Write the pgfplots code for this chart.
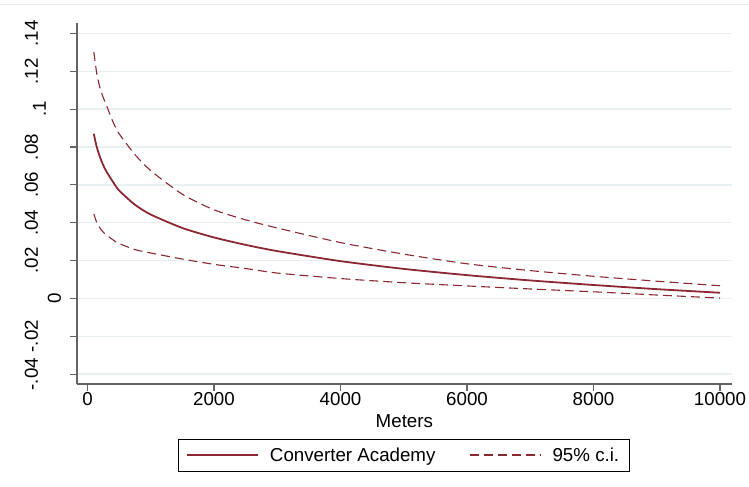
\documentclass[border=0pt]{standalone}
\usepackage{pgfplots}
\usepackage{pgfplotstable}
\pgfplotsset{compat=1.18}
\usepackage{fontspec}
\setmainfont{Liberation Sans}
\definecolor{cran}{RGB}{140,40,50}
\definecolor{gridc}{RGB}{232,240,242}
\definecolor{axc}{RGB}{100,100,100}
\newcommand{\tf}{\fontsize{18.8}{22}\selectfont}
\pgfplotstableread{
x main upper lower
100 0.0870 0.1302 0.0447
125 0.0829 0.1240 0.0420
150 0.0796 0.1180 0.0400
200 0.0744 0.1110 0.0370
250 0.0703 0.1060 0.0350
300 0.0670 0.1020 0.0335
400 0.0617 0.0935 0.0310
500 0.0570 0.0870 0.0290
750 0.0495 0.0760 0.0258
1000 0.0443 0.0675 0.0240
1500 0.0372 0.0550 0.0208
2000 0.0322 0.0468 0.0180
2500 0.0283 0.0415 0.0158
3000 0.0250 0.0372 0.0134
4000 0.0197 0.0295 0.0105
5000 0.0156 0.0234 0.0083
6000 0.0123 0.0183 0.0066
7000 0.0095 0.0147 0.0050
8000 0.0071 0.0117 0.0035
9000 0.0049 0.0091 0.0018
10000 0.0030 0.0067 0.0002
}\datatable
\begin{document}
\begin{tikzpicture}[x=1bp,y=1bp]
\path[use as bounding box] (0,0) rectangle (749,487);
\draw[gridc, line width=1.2bp] (0,482.5) -- (749,482.5);
\begin{axis}[
  at={(77bp,103bp)}, anchor=south west,
  scale only axis, width=654.7bp, height=361bp,
  xmin=-166, xmax=10185, ymin=-0.0452, ymax=0.1455,
  axis lines=left,
  axis line style={-, axc, line width=1.5bp},
  tick align=outside, major tick length=7bp,
  tick style={axc, line width=1.2bp},
  ymajorgrids=true, grid style={gridc, line width=1.5bp},
  scaled x ticks=false, scaled y ticks=false,
  xtick={0,2000,4000,6000,8000,10000},
  xticklabels={0,2000,4000,6000,8000,10000},
  ytick={-0.04,-0.02,0,0.02,0.04,0.06,0.08,0.1,0.12,0.14},
  yticklabels={\raisebox{32bp}{-.04},\raisebox{32bp}{-.02},\raisebox{9bp}{0},\raisebox{32bp}{.02},\raisebox{32bp}{.04},\raisebox{32bp}{.06},\raisebox{32bp}{.08},\raisebox{24bp}{.1},\raisebox{32bp}{.12},\raisebox{32bp}{.14}},
  xticklabel style={font=\tf, anchor=north, inner sep=0pt, yshift=-1bp},
  yticklabel style={font=\tf, rotate=90, anchor=south, inner sep=0pt},
  xlabel={Meters}, xlabel style={font=\tf, inner sep=0pt, yshift=-9bp},
  legend columns=2,
  legend style={at={(0.499,-0.1967)}, anchor=center, draw=black, line width=0.8bp,
    font=\tf, inner xsep=8bp, inner ysep=6.5bp,
    /tikz/every odd column/.append style={column sep=9bp},
    /tikz/every even column/.append style={column sep=32bp}},
  legend image code/.code={\draw[#1] (0bp,0bp) -- (71bp,0bp);},
]
\addplot[cran, line width=1.8bp, smooth, tension=0.4] table[x=x,y=main] {\datatable};
\addlegendentry{Converter Academy}
\addplot[cran, line width=1.1bp, smooth, tension=0.4, dash pattern=on 9bp off 5bp] table[x=x,y=upper] {\datatable};
\addlegendentry{95\% c.i.}
\addplot[cran, line width=1.1bp, smooth, tension=0.4, dash pattern=on 9bp off 5bp, forget plot] table[x=x,y=lower] {\datatable};
\end{axis}
\end{tikzpicture}
\end{document}
